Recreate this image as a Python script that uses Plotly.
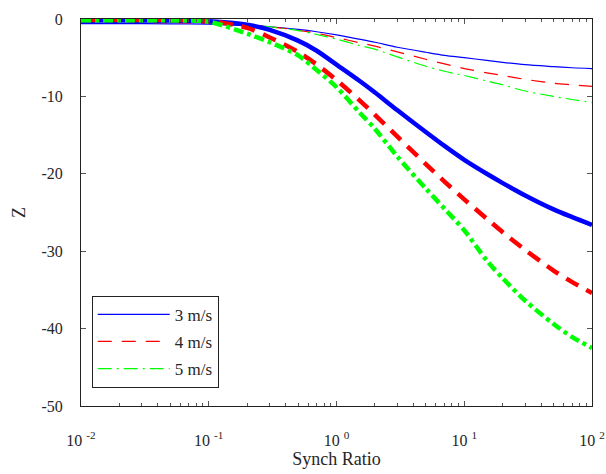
import plotly.graph_objects as go

synch_ratio = [0.01, 0.02, 0.05, 0.1, 0.2, 0.3, 0.5, 0.7, 1, 1.5, 2, 3, 5, 7, 10, 15, 20, 30, 50, 70, 100]

# thin curves (shown in legend)
z_3_thin = [-0.6, -0.6, -0.62, -0.68, -0.85, -1.0, -1.35, -1.65, -2.05, -2.6, -3.0, -3.65, -4.3, -4.7, -5.0, -5.35, -5.6, -5.9, -6.15, -6.3, -6.4]
z_4_thin = [-0.45, -0.45, -0.47, -0.55, -0.8, -1.0, -1.45, -1.85, -2.4, -3.05, -3.5, -4.25, -5.2, -5.8, -6.4, -6.95, -7.3, -7.8, -8.3, -8.5, -8.7]
z_5_thin = [-0.35, -0.35, -0.37, -0.45, -0.75, -1.0, -1.5, -2.0, -2.6, -3.4, -3.9, -4.9, -6.1, -6.75, -7.3, -8.0, -8.5, -9.3, -10.0, -10.4, -10.8]

# thick curves
z_3_thick = [-0.2, -0.2, -0.2, -0.3, -0.75, -1.4, -2.8, -4.1, -5.9, -7.95, -9.5, -11.8, -14.6, -16.4, -18.2, -20.0, -21.2, -22.8, -24.6, -25.6, -26.6]
z_4_thick = [-0.1, -0.1, -0.12, -0.25, -1.15, -2.38, -4.27, -5.88, -7.89, -10.44, -12.38, -15.2, -18.75, -21.0, -23.3, -25.8, -27.55, -29.84, -32.5, -34.0, -35.4]
z_5_thick = [-0.15, -0.15, -0.17, -0.35, -1.9, -3.0, -4.7, -6.6, -8.8, -12.0, -14.2, -17.8, -21.9, -24.5, -27.3, -31.2, -33.5, -36.4, -39.4, -41.1, -42.5]

legend_names = ["3 m/s", "4 m/s", "5 m/s"]

x_tickvals = [0.01, 0.1, 1, 10, 100]
x_ticktext = ["10 <sup>-2</sup>", "10 <sup>-1</sup>", "10 <sup>0</sup>", "10 <sup>1</sup>", "10 <sup>2</sup>"]
y_tickvals = [0, -10, -20, -30, -40, -50]
y_ticktext = ["0", "-10", "-20", "-30", "-40", "-50"]

minor_vals = [m * d for d in [0.01, 0.1, 1, 10] for m in range(2, 10)]

FONT = "Liberation Serif"
TXT = "#262626"
BLUE, RED, GREEN = "#0000ff", "#ff0000", "#00ff00"

fig = go.Figure()

thin = [(z_3_thin, BLUE, "solid"), (z_4_thin, RED, "14px,10px"), (z_5_thin, GREEN, "14px,5px,2px,5px")]
for (ys, col, dash), name in zip(thin, legend_names):
    fig.add_trace(go.Scatter(x=synch_ratio, y=ys, mode="lines", name=name, legendgroup=name,
                             line=dict(color=col, width=1.2, dash=dash, shape="spline", smoothing=0.8)))

thick = [(z_3_thick, BLUE, "solid"), (z_4_thick, RED, "14px,9px"), (z_5_thick, GREEN, "10px,4px,4px,4px")]
for ys, col, dash in thick:
    fig.add_trace(go.Scatter(x=synch_ratio, y=ys, mode="lines", showlegend=False,
                             line=dict(color=col, width=4.5, dash=dash, shape="spline", smoothing=0.8)))

axis_common = dict(showline=True, linecolor="#222222", linewidth=1, mirror="ticks", automargin=False,
                   ticks="inside", ticklen=5, tickcolor="#555555", showgrid=False, zeroline=False,
                   tickfont=dict(family=FONT, size=16, color=TXT))

fig.update_xaxes(type="log", range=[-2, 2], tickmode="array", tickvals=x_tickvals, ticktext=x_ticktext,
                 ticklabelstandoff=20,
                 minor=dict(ticks="inside", ticklen=3, tickcolor="#555555", tickmode="array", tickvals=minor_vals, showgrid=False),
                 title=dict(text="Synch Ratio", font=dict(family=FONT, size=18, color=TXT), standoff=0),
                 **axis_common)
fig.update_yaxes(range=[-50, 0], tickmode="array", tickvals=y_tickvals, ticktext=y_ticktext,
                 ticklabelstandoff=14,
                 title=dict(text="Z", font=dict(family=FONT, size=18, color=TXT), standoff=11),
                 **axis_common)

fig.update_layout(
    width=606, height=474,
    margin=dict(l=81, r=14, t=19, b=68),
    plot_bgcolor="white", paper_bgcolor="white",
    font=dict(family=FONT, size=16, color=TXT),
    legend=dict(x=0.021, y=0.047, xanchor="left", yanchor="bottom",
                bordercolor="#222222", borderwidth=1, bgcolor="white",
                itemwidth=72, tracegroupgap=2,
                font=dict(family=FONT, size=17, color=TXT)),
)

fig.write_html("out.html")
